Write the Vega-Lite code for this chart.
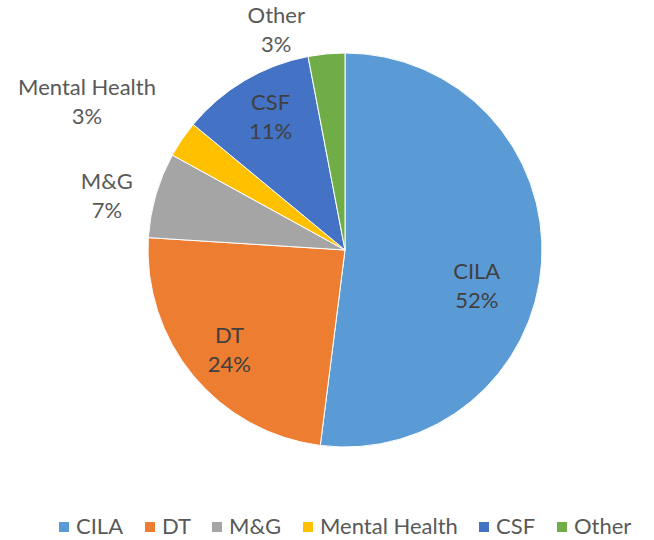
{
  "$schema": "https://vega.github.io/schema/vega-lite/v6.json",
  "width": 618,
  "height": 500,
  "autosize": {"type": "none"},
  "padding": {"left": 36, "top": 0, "right": 0, "bottom": 40},
  "background": "white",
  "config": {"view": {"stroke": null}},
  "data": {
    "values": [
      {"category": "CILA", "share": 52, "label": "CILA|52%", "ord": 1},
      {"category": "DT", "share": 24, "label": "DT|24%", "ord": 2},
      {"category": "M&G", "share": 7, "label": "M&G|7%", "ord": 3},
      {"category": "Mental Health", "share": 3, "label": "Mental Health|3%", "ord": 4},
      {"category": "CSF", "share": 11, "label": "CSF|11%", "ord": 5},
      {"category": "Other", "share": 3, "label": "Other|3%", "ord": 6}
    ]
  },
  "encoding": {
    "theta": {"field": "share", "type": "quantitative", "stack": true},
    "order": {"field": "ord", "type": "quantitative"}
  },
  "layer": [
    {
      "mark": {"type": "arc", "outerRadius": 197, "stroke": "white", "strokeWidth": 1},
      "encoding": {
        "color": {
          "field": "category",
          "type": "nominal",
          "scale": {
            "domain": ["CILA", "DT", "M&G", "Mental Health", "CSF", "Other"],
            "range": ["#5B9BD5", "#ED7D31", "#A5A5A5", "#FFC000", "#4472C4", "#70AD47"]
          },
          "legend": {
            "title": null,
            "orient": "none",
            "legendX": 17,
            "legendY": 516,
            "direction": "horizontal",
            "symbolType": "square",
            "symbolSize": 100,
            "symbolStrokeWidth": 0,
            "labelFont": "Lato",
            "labelFontSize": 22,
            "labelColor": "#595959",
            "labelOffset": 1,
            "columnPadding": 15
          }
        }
      }
    },
    {
      "mark": {"type": "text", "radius": 137, "dx": -5, "dy": 13.5, "font": "Lato", "fontSize": 22, "lineBreak": "|", "lineHeight": 29, "color": "#404040"},
      "encoding": {
        "detail": {"field": "category", "type": "nominal"},
        "text": {"condition": {"test": "datum.category === 'CILA'", "field": "label", "type": "nominal"}, "value": ""}
      }
    },
    {
      "mark": {"type": "text", "radius": 150, "dx": 0, "dy": -9.5, "font": "Lato", "fontSize": 22, "lineBreak": "|", "lineHeight": 29, "color": "#404040"},
      "encoding": {
        "detail": {"field": "category", "type": "nominal"},
        "text": {"condition": {"test": "datum.category === 'DT'", "field": "label", "type": "nominal"}, "value": ""}
      }
    },
    {
      "mark": {"type": "text", "radius": 152, "dx": 3, "dy": -16.5, "font": "Lato", "fontSize": 22, "lineBreak": "|", "lineHeight": 29, "color": "#404040"},
      "encoding": {
        "detail": {"field": "category", "type": "nominal"},
        "text": {"condition": {"test": "datum.category === 'CSF'", "field": "label", "type": "nominal"}, "value": ""}
      }
    },
    {
      "mark": {"type": "text", "radius": 248, "dx": 0, "dy": 1.5, "font": "Lato", "fontSize": 22, "lineBreak": "|", "lineHeight": 29, "color": "#595959"},
      "encoding": {
        "detail": {"field": "category", "type": "nominal"},
        "text": {"condition": {"test": "datum.category === 'M&G'", "field": "label", "type": "nominal"}, "value": ""}
      }
    },
    {
      "mark": {"type": "text", "radius": 295, "dx": -14, "dy": 3.5, "font": "Lato", "fontSize": 22, "lineBreak": "|", "lineHeight": 29, "color": "#595959"},
      "encoding": {
        "detail": {"field": "category", "type": "nominal"},
        "text": {"condition": {"test": "datum.category === 'Mental Health'", "field": "label", "type": "nominal"}, "value": ""}
      }
    },
    {
      "mark": {"type": "text", "radius": 220, "dx": -48, "dy": -14.5, "font": "Lato", "fontSize": 22, "lineBreak": "|", "lineHeight": 29, "color": "#595959"},
      "encoding": {
        "detail": {"field": "category", "type": "nominal"},
        "text": {"condition": {"test": "datum.category === 'Other'", "field": "label", "type": "nominal"}, "value": ""}
      }
    }
  ]
}
